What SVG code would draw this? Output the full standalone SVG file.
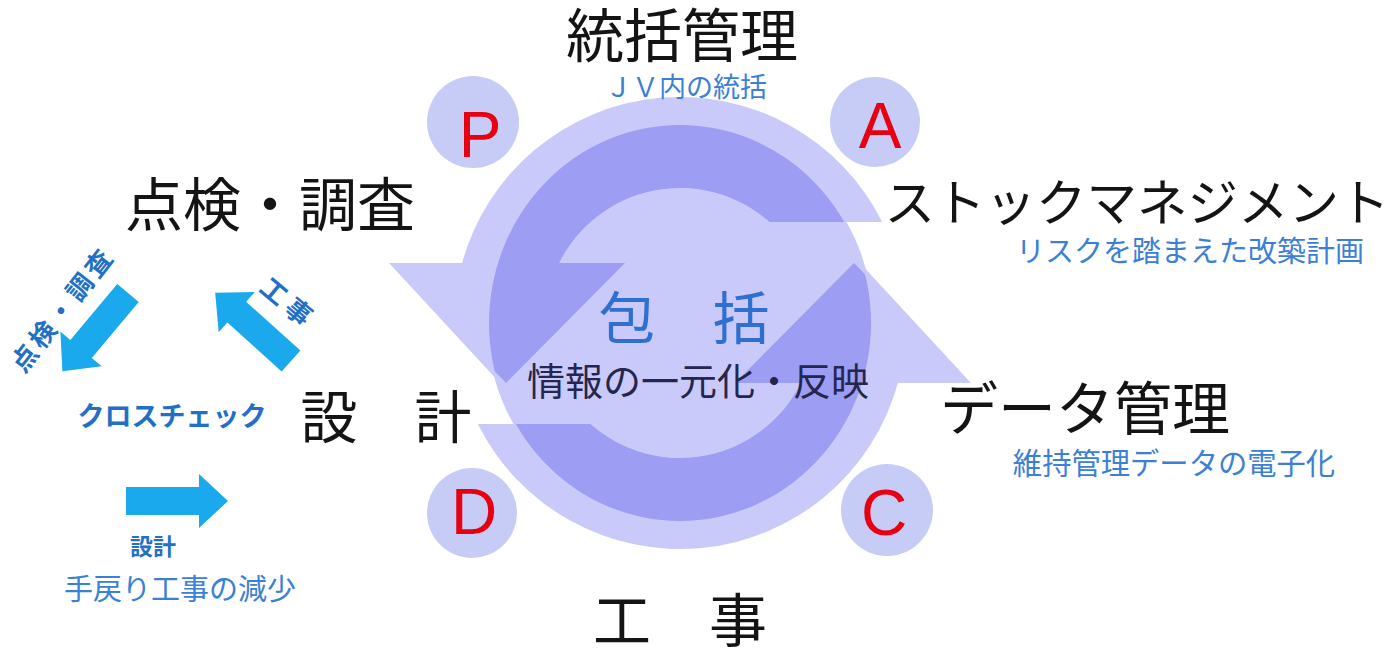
<svg xmlns="http://www.w3.org/2000/svg" width="1395" height="650" viewBox="0 0 1395 650">
<style>
.jp{font-family:"Noto Sans CJK JP","Noto Sans CJK SC",sans-serif;}
.blk{fill:#141414;}
.sub{fill:#3b80d6;}
.bb{fill:#2270c6;font-weight:bold;}
.lt{fill:#cacafa;}
.dk{fill:#9d9df4;}
.badge{fill:#c6ccf5;}
.let{font-family:"Liberation Sans",Arial,sans-serif;fill:#e60012;font-size:64px;text-anchor:middle;}
.arr{fill:#19a9ec;}
</style>
<defs>
<clipPath id="dclip"><ellipse cx="680" cy="323" rx="191" ry="198"/></clipPath>
<path id="blueArrow" d="M0,-14 L73,-14 L73,-27 L102,0 L73,27 L73,14 L0,14 Z"/>
</defs>
<rect width="1395" height="650" fill="#ffffff"/>

<g id="cycle">
<ellipse class="lt" cx="680" cy="323" rx="193" ry="200"/>
<path class="lt" d="M882.2,222 A226,226 0 0 0 462.1,263 L389,263 L500,383 L611,263 L780,222 Z"/>
<path class="lt" d="M477.8,424 A226,226 0 0 0 897.9,383 L971,383 L860,263 L749,383 L580,424 Z"/>
<g clip-path="url(#dclip)">
<path class="dk" d="M882.2,222 A226,226 0 0 0 462.1,263 L389,263 L506,383 L625,263 L559.1,263 A135,135 0 0 1 769.6,222 Z"/>
<path class="dk" d="M477.8,424 A226,226 0 0 0 897.9,383 L971,383 L854,263 L735,383 L800.9,383 A135,135 0 0 1 590.4,424 Z"/>
</g>
<text class="jp" x="684" y="339" font-size="57" text-anchor="middle" fill="#2f6fd0">包　括</text>
<text class="jp" x="698" y="395" font-size="38" text-anchor="middle" fill="#25264e">情報の一元化・反映</text>
</g>

<g id="node-P"><circle class="badge" cx="473" cy="122" r="46"/><text class="let" x="480" y="157">P</text></g>
<g id="node-A"><circle class="badge" cx="875" cy="122" r="45"/><text class="let" x="880" y="148">A</text></g>
<g id="node-D"><circle class="badge" cx="472" cy="513" r="45"/><text class="let" x="474" y="534">D</text></g>
<g id="node-C"><circle class="badge" cx="887" cy="510" r="46"/><text class="let" x="884" y="535">C</text></g>

<g id="node-tokatsu">
<text class="jp blk" x="682" y="57" font-size="58" text-anchor="middle">統括管理</text>
<text class="jp sub" x="686" y="97" font-size="27" text-anchor="middle">ＪＶ内の統括</text>
</g>
<g id="node-tenken">
<text class="jp blk" x="270" y="226" font-size="58" text-anchor="middle">点検・調査</text>
</g>
<g id="node-stock">
<text class="jp blk" x="1137" y="221" font-size="50.5" text-anchor="middle">ストックマネジメント</text>
<text class="jp sub" x="1190" y="262" font-size="29" text-anchor="middle">リスクを踏まえた改築計画</text>
</g>
<g id="node-data">
<text class="jp blk" x="1085" y="430" font-size="58" text-anchor="middle">データ管理</text>
<text class="jp sub" x="1174" y="474" font-size="29.3" text-anchor="middle">維持管理データの電子化</text>
</g>
<g id="node-sekkei">
<text class="jp blk" x="386" y="438" font-size="57" text-anchor="middle">設　計</text>
</g>
<g id="node-koji">
<text class="jp blk" x="680" y="642" font-size="58" text-anchor="middle">工　事</text>
</g>

<g id="connectors">
<use href="#blueArrow" class="arr" transform="translate(128,293) rotate(130)"/>
<use href="#blueArrow" class="arr" transform="translate(291,361) rotate(-138)"/>
<use href="#blueArrow" class="arr" transform="translate(126,501)"/>
</g>

<g id="crosscheck">
<text class="jp bb" x="61" y="308" font-size="26" text-anchor="middle" dominant-baseline="central" letter-spacing="4" transform="rotate(-52 61 308)">点検・調査</text>
<text class="jp bb" x="290" y="302" font-size="26" text-anchor="middle" dominant-baseline="central" letter-spacing="6" transform="rotate(40 290 302)">工事</text>
<text class="jp bb" x="172" y="426" font-size="27" text-anchor="middle">クロスチェック</text>
<text class="jp bb" x="153" y="555" font-size="23" text-anchor="middle">設計</text>
<text class="jp sub" x="180" y="600" font-size="29" text-anchor="middle">手戻り工事の減少</text>
</g>
</svg>
